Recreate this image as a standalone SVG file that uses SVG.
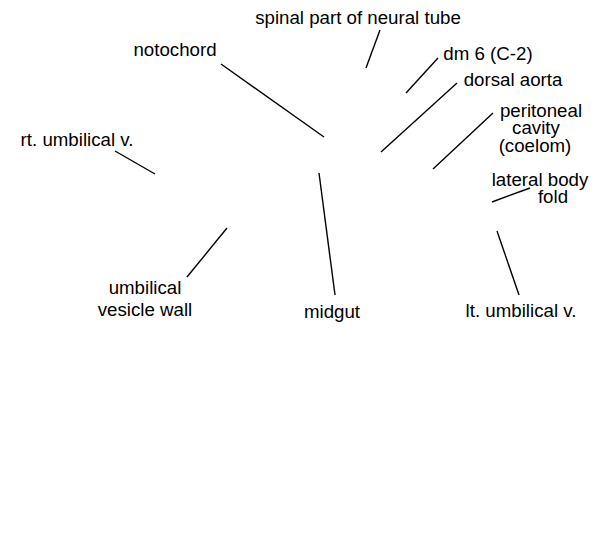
<svg xmlns="http://www.w3.org/2000/svg" width="600" height="550" viewBox="0 0 600 550">
<style>
text{font-family:"Liberation Sans",Arial,sans-serif;font-size:18.7px;fill:#000;text-anchor:middle}
.c line{stroke:#000;stroke-width:1.4;fill:none}
</style>
<rect width="600" height="550" fill="#fff"/>
<g class="c" id="connectors">
<line x1="380" y1="30" x2="366" y2="68"/>
<line x1="221" y1="64" x2="324" y2="137"/>
<line x1="438" y1="58" x2="406" y2="93"/>
<line x1="457" y1="83" x2="381" y2="152"/>
<line x1="493" y1="113" x2="433" y2="169"/>
<line x1="115" y1="151" x2="155" y2="174"/>
<line x1="530" y1="188" x2="492" y2="202"/>
<line x1="319" y1="173" x2="335" y2="295"/>
<line x1="227" y1="228" x2="187" y2="277"/>
<line x1="497" y1="231" x2="519" y2="295"/>
</g>
<g id="spinal"><text x="358" y="24">spinal part of neural tube</text></g>
<g id="notochord"><text x="175" y="56">notochord</text></g>
<g id="dm6"><text x="488" y="60">dm 6 (C-2)</text></g>
<g id="dorsal-aorta"><text x="513" y="86">dorsal aorta</text></g>
<g id="peritoneal"><text x="541" y="117">peritoneal</text><text x="536" y="134">cavity</text><text x="535" y="152">(coelom)</text></g>
<g id="rt-umbilical"><text x="77" y="146">rt. umbilical v.</text></g>
<g id="lateral-body-fold"><text x="540" y="186">lateral body</text><text x="553" y="203">fold</text></g>
<g id="umbilical-vesicle"><text x="145" y="294">umbilical</text><text x="145" y="316">vesicle wall</text></g>
<g id="midgut"><text x="332" y="318">midgut</text></g>
<g id="lt-umbilical"><text x="521" y="317">lt. umbilical v.</text></g>
</svg>
